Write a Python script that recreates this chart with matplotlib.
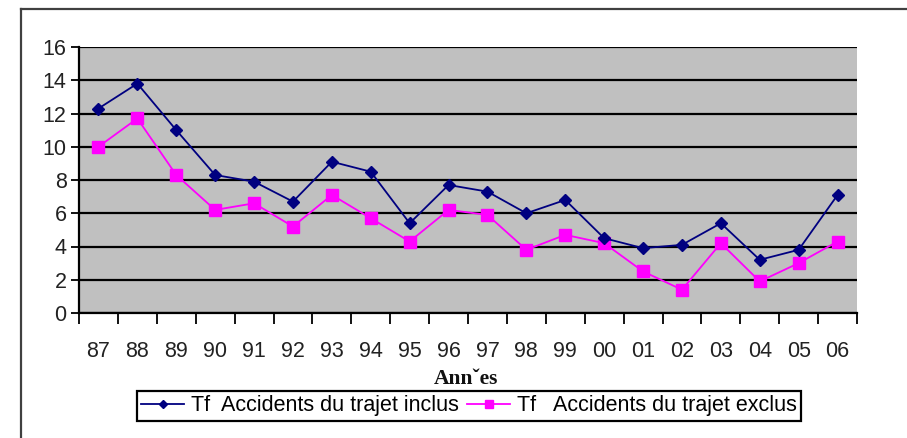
import matplotlib
matplotlib.use("Agg")
import matplotlib.pyplot as plt
from matplotlib.lines import Line2D

years = ["87", "88", "89", "90", "91", "92", "93", "94", "95", "96",
         "97", "98", "99", "00", "01", "02", "03", "04", "05", "06"]
tf_inclus = [12.3, 13.8, 11.0, 8.3, 7.9, 6.7, 9.1, 8.5, 5.4, 7.7,
             7.3, 6.0, 6.8, 4.5, 3.9, 4.1, 5.4, 3.2, 3.8, 7.1]
tf_exclus = [10.0, 11.7, 8.3, 6.2, 6.6, 5.2, 7.1, 5.7, 4.3, 6.2,
             5.9, 3.8, 4.7, 4.2, 2.5, 1.4, 4.2, 1.9, 3.0, 4.3]
yticks = [0, 2, 4, 6, 8, 10, 12, 14, 16]

W, H = 907, 438
fig = plt.figure(figsize=(W / 100, H / 100), dpi=100)
fig.patch.set_facecolor("white")

# outer frame (left and top edges visible)
fig.add_artist(Line2D([21 / W, 21 / W], [0, 1 - 9 / H], transform=fig.transFigure,
                      color="#404040", lw=1.6))
fig.add_artist(Line2D([21 / W, 1], [1 - 9 / H, 1 - 9 / H], transform=fig.transFigure,
                      color="#404040", lw=1.6))

left, right, top, bottom = 79, 857, 47, 313
ax = fig.add_axes([left / W, 1 - bottom / H, (right - left) / W, (bottom - top) / H])
ax.set_facecolor("#C0C0C0")

x = list(range(len(years)))
l1, = ax.plot(x, tf_inclus, color="#000080", lw=1.3, marker="D", markersize=6,
              markerfacecolor="#000080", markeredgecolor="#000080",
              label="Tf  Accidents du trajet inclus", zorder=4)
l2, = ax.plot(x, tf_exclus, color="#FF00FF", lw=1.3, marker="s", markersize=8,
              markerfacecolor="#FF00FF", markeredgecolor="#FF00FF",
              label="Tf   Accidents du trajet exclus", zorder=3)

ax.set_xlim(-0.5, len(years) - 0.5)
ax.set_ylim(0, 16)
ax.set_yticks(yticks)
ax.yaxis.grid(True, color="black", lw=1.6)
ax.set_axisbelow(True)

tickfont = {"family": "Liberation Sans", "size": 15.5}
ax.set_yticklabels([str(v) for v in yticks], fontdict=tickfont, color="#222222")
ax.tick_params(axis="y", length=6, width=1.3, color="black", pad=3)

ax.set_xticks([i - 0.5 for i in range(len(years) + 1)])
ax.set_xticklabels([])
ax.tick_params(axis="x", which="major", length=8, width=1.3, color="black", direction="out")
ax.set_xticks(x, minor=True)
ax.set_xticklabels(years, minor=True, fontdict=tickfont, color="#222222")
ax.tick_params(axis="x", which="minor", length=0, pad=20)

for s in ["top", "right"]:
    ax.spines[s].set_visible(False)
ax.spines["left"].set_color("black")
ax.spines["left"].set_linewidth(1.6)
ax.spines["bottom"].set_color("black")
ax.spines["bottom"].set_linewidth(1.6)

fig.text(465.5 / W, 1 - 379 / H, "Ann\u02c7es", ha="center", va="center",
         fontfamily="Liberation Serif", fontweight="bold", fontsize=15.5, color="#111111")

leg = fig.legend(handles=[l1, l2], loc="center", bbox_to_anchor=(469 / W, 1 - 406 / H),
                 ncol=2, frameon=True, fancybox=False, framealpha=1,
                 prop={"family": "Liberation Sans", "size": 15.5},
                 handlelength=2.0, handletextpad=0.3, columnspacing=0.4,
                 borderpad=0.2, borderaxespad=0, markerscale=0.75)
leg.get_frame().set_edgecolor("black")
leg.get_frame().set_linewidth(1.6)

fig.savefig("out.png", dpi=100)
